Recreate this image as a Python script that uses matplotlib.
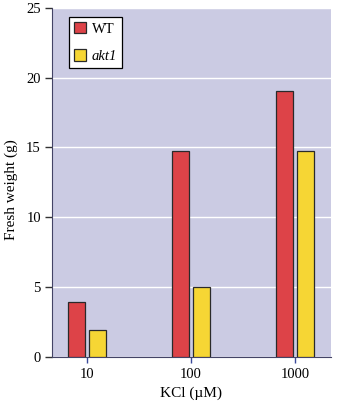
import numpy as np
import matplotlib.pyplot as plt

# fresh weight of plants grown at different KCl concentrations
kcl = ['10', '100', '1000']
wt = [3.95, 14.75, 19.05]
akt1 = [1.9, 5.0, 14.75]

plt.rcParams['font.family'] = ['Liberation Serif', 'DejaVu Serif']

fig = plt.figure(figsize=(3.41, 4.13), dpi=100)
ax = fig.add_axes([52/341, 1 - 356.7/413, 279/341, (356.7 - 8)/413])

x = np.arange(len(kcl))
w = 0.159
ax.bar(x - 0.101, wt, w, color='#DD4348', edgecolor='#2a2a2a', linewidth=0.9, label='WT', zorder=3)
ax.bar(x + 0.101, akt1, w, color='#F6D634', edgecolor='#2a2a2a', linewidth=0.9, label='akt1', zorder=3)

ax.set_facecolor('#CBCBE3')
ax.set_xlim(-0.337, 2.346)
ax.set_ylim(0, 25)
ax.set_yticks([0, 5, 10, 15, 20, 25])
ax.yaxis.grid(True, color='white', linewidth=1.0, zorder=1)
ax.set_axisbelow(True)

ax.set_xticks(x)
ax.set_xticklabels(kcl, fontsize=10.5)
ax.tick_params(axis='x', length=4, width=1, color='#3a4a9a', pad=4)
ax.tick_params(axis='y', length=5, width=1, color='#333333', labelsize=10.5, pad=3)

for s in ['top', 'right']:
    ax.spines[s].set_visible(False)
ax.spines['left'].set_color('#444466')
ax.spines['bottom'].set_color('#444466')

ax.set_xlabel('KCl (µM)', fontsize=11, labelpad=4)
ax.set_ylabel('Fresh weight (g)', fontsize=11)
ax.yaxis.set_label_coords(-0.122, 0.478)

leg = ax.legend(loc='upper left', bbox_to_anchor=(0.061, 0.974), borderaxespad=0,
                fontsize=10.5, frameon=True, fancybox=False, edgecolor='black',
                framealpha=1, handlelength=0.85, handleheight=0.85,
                labelspacing=0.95, borderpad=0.32, handletextpad=0.4)
leg.get_frame().set_linewidth(0.9)
leg.get_texts()[1].set_style('italic')

fig.savefig('out.png', dpi=100)
